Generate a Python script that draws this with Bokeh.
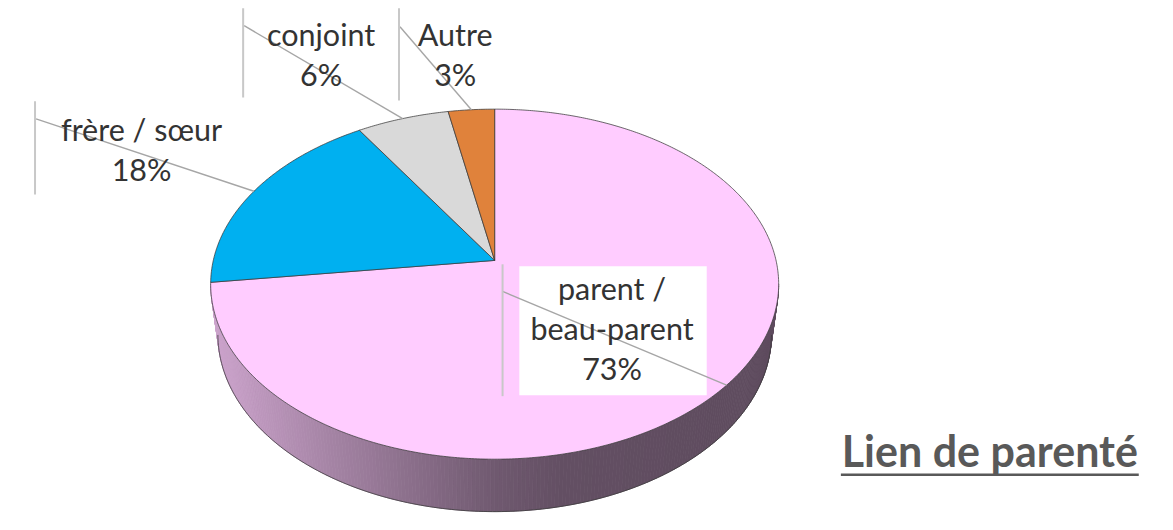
import numpy as np
from bokeh.plotting import figure
from bokeh.models import Range1d
from bokeh.core.properties import value
from bokeh.embed import file_html
from bokeh.resources import INLINE

# ---------------- data ----------------
categories = ["parent /\nbeau-parent", "frère / sœur", "conjoint", "Autre"]
percents = [73, 18, 6, 3]
slice_colors = ["#ffccff", "#00b0f0", "#d9d9d9", "#e0823b"]
title_text = "Lien de parenté"

# ---------------- layout (reference pixel space 1173 x 530) ----------------
W, H = 1157, 514
REF_W, REF_H = 1173, 530
SY = H / REF_H
CX, CY = 501, 268            # pie centre
R, F = 0.1731, 1648.0        # perspective model
SIN_A, COS_A = 0.621, 0.784
THICK = 0.0413

LABEL_FS = 30.5
TITLE_FS = 43
BASE_FIX = 0.34              # renderer baseline correction (em)

# label placement: text centre x, first baseline y, bar x, bar top, bar bottom, leader start
label_text_x = [620, 143, 325, 461]
label_base_y = [307, 143, 45, 45]
label_bar_x = [509, 35, 246, 404]
label_bar_top = [272, 104, 8, 8]
label_bar_bot = [408, 200, 100, 103]
leader_start = [(509, 300), (36, 122), (247, 26), (405, 27)]
LINE_GAP = 41.5


def proj(theta_deg, h=0.0):
    th = np.radians(theta_deg)
    X = R * np.sin(th)
    Z = -R * np.cos(th)
    depth = 1 - Z * COS_A + h * SIN_A
    sx = CX + F * X / depth
    sy = CY + F * (Z * SIN_A + h * COS_A) / depth
    return sx, sy


def shade(hex_col, k):
    r, g, b = int(hex_col[1:3], 16), int(hex_col[3:5], 16), int(hex_col[5:7], 16)
    return "#%02x%02x%02x" % (int(r * k), int(g * k), int(b * k))


p = figure(width=W, height=H, x_range=Range1d(0, REF_W), y_range=Range1d(REF_H, 0),
           output_backend="svg", toolbar_location=None, min_border=0,
           x_axis_type=None, y_axis_type=None)
p.grid.visible = False
p.outline_line_color = None
p.background_fill_color = "white"
p.border_fill_color = "white"

total = float(sum(percents))
starts = np.cumsum([0] + percents[:-1]) / total * 360.0
ends = np.cumsum(percents) / total * 360.0

# ---------- side wall (visible front part) ----------
bcoef = R * COS_A
th_r = np.degrees(np.arccos(-bcoef))
th_l = 360 - th_r
edges = np.linspace(th_r, th_l, 241)
half_w = F * R / np.sqrt(1 - bcoef ** 2)
left_x, right_x = CX - half_w, CX + half_w
stops_t = [0.0, 0.15, 0.33, 0.5, 0.62, 1.0]
stops_k = [0.80, 0.69, 0.56, 0.44, 0.39, 0.37]
sxs, sys, scol = [], [], []
for a0, a1 in zip(edges[:-1], edges[1:]):
    tx0, ty0 = proj(a0)
    tx1, ty1 = proj(a1)
    bx0, by0 = proj(a0, THICK)
    bx1, by1 = proj(a1, THICK)
    mid = (a0 + a1) / 2
    idx = min(int(np.searchsorted(ends, mid)), len(percents) - 1)
    t = ((tx0 + tx1) / 2 - left_x) / (right_x - left_x)
    k = float(np.interp(t, stops_t, stops_k))
    sxs.append([tx0, tx1, bx1, bx0])
    sys.append([ty0, ty1, by1, by0])
    scol.append(shade(slice_colors[idx], k))
p.patches(sxs, sys, fill_color=scol, line_color=scol, line_width=0.8)
arc = np.linspace(th_r, th_l, 200)
bx, by = proj(arc, THICK)
p.line(bx, by, line_color="#3a3a3a", line_width=1, line_alpha=0.75)

# ---------- top face slices ----------
txs, tys = [], []
for s, e in zip(starts, ends):
    a = np.linspace(s, e, max(8, int((e - s) * 2)))
    ax, ay = proj(a)
    txs.append([CX] + list(ax))
    tys.append([CY] + list(ay))
p.patches(txs, tys, fill_color=slice_colors, line_color="#3a3a3a", line_width=1, line_alpha=0.75)

# ---------- labels ----------
p.quad(left=[526], right=[716], top=[274], bottom=[407], fill_color="white", line_color=None)

mids = (starts + ends) / 2
mx, my = proj(mids)
p.segment(x0=[s[0] for s in leader_start], y0=[s[1] for s in leader_start], x1=mx, y1=my,
          line_color="#a6a6a6", line_width=1.4)
p.segment(x0=label_bar_x, y0=label_bar_top, x1=label_bar_x, y1=label_bar_bot,
          line_color="#c8c8c8", line_width=2)

lx, ly, lt = [], [], []
for i, (cat, pc) in enumerate(zip(categories, percents)):
    lines = cat.split("\n") + ["%d%%" % pc]
    for j, ln in enumerate(lines):
        lx.append(label_text_x[i])
        ly.append(label_base_y[i] + j * LINE_GAP - BASE_FIX * LABEL_FS / SY)
        lt.append(ln)
p.text(x=lx, y=ly, text=lt, text_font=value("Lato"), text_font_size="%.1fpx" % LABEL_FS,
       text_color="#333333", text_align="center", text_baseline="alphabetic")

# ---------- title ----------
p.text(x=[1003], y=[482 - 0.40 * TITLE_FS / SY], text=[title_text], text_font=value("Lato"),
       text_font_size="%dpx" % TITLE_FS, text_font_style="bold", text_color="#595959",
       text_align="center", text_baseline="alphabetic")
p.segment(x0=[852], y0=[489], x1=[1154], y1=[489], line_color="#595959", line_width=2.5)

open("out.html", "w").write(file_html(p, INLINE))
